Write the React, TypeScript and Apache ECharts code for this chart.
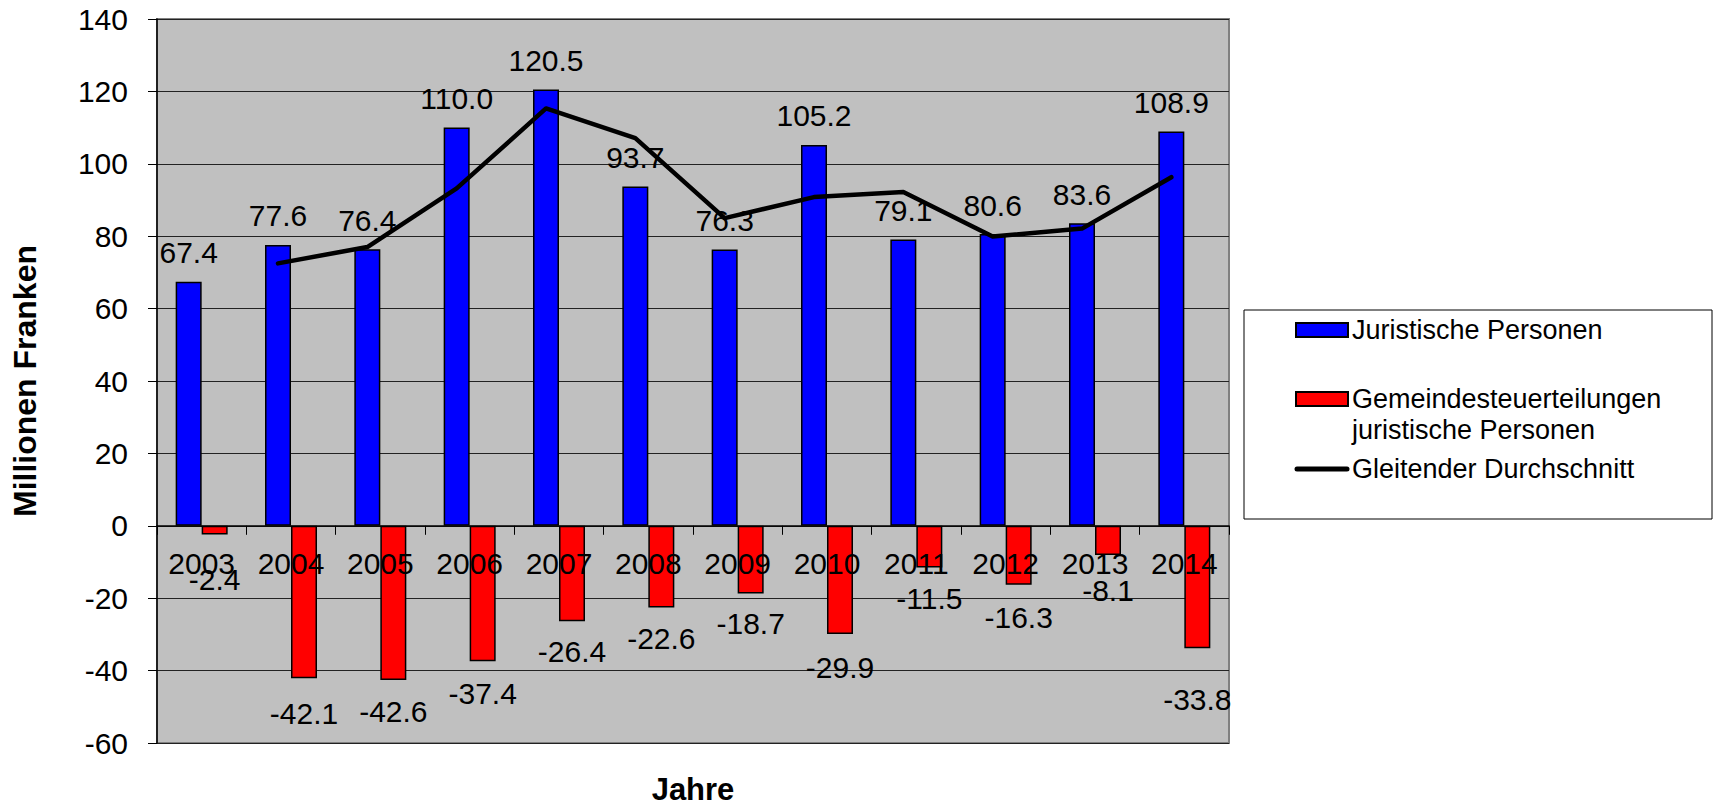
import React, { useEffect, useRef } from "react";
import * as echarts from "echarts";

const years = ["2003", "2004", "2005", "2006", "2007", "2008", "2009", "2010", "2011", "2012", "2013", "2014"];
const juristischePersonen = [67.4, 77.6, 76.4, 110.0, 120.5, 93.7, 76.3, 105.2, 79.1, 80.6, 83.6, 108.9];
const gemeindesteuerteilungen = [-2.4, -42.1, -42.6, -37.4, -26.4, -22.6, -18.7, -29.9, -11.5, -16.3, -8.1, -33.8];
const gleitenderDurchschnitt = [null, 72.5, 77.0, 93.2, 115.3, 107.1, 85.0, 90.8, 92.2, 79.9, 82.1, 96.3];
const yMin = -60;
const yMax = 140;
const yInterval = 20;

const seriesNames = [
  "Juristische Personen",
  "Gemeindesteuerteilungen\njuristische Personen",
  "Gleitender Durchschnitt",
];

// label distances (styling only) for the negative bars
const redLabelDistance = [30, 20, 16, 17, 15, 16, 15, 18, 16, 18, 20, 36];

const FONT = "'Liberation Sans', Arial, sans-serif";

export default function App() {
  const ref = useRef<HTMLDivElement>(null);

  useEffect(() => {
    if (!ref.current) return;
    const chart = echarts.init(ref.current, undefined, { renderer: "svg" });

    const gridLeft = 157;
    const gridTop = 19;
    const gridWidth = 1072;
    const gridHeight = 724;
    const barW = 26;
    // place the category axis at the value 0 line of the value axis
    const zeroOffset = -(gridHeight * (0 - yMin)) / (yMax - yMin);

    const option: any = {
      animation: false,
      backgroundColor: "#ffffff",
      textStyle: { fontFamily: FONT },
      grid: [
        {
          left: gridLeft,
          top: gridTop,
          width: gridWidth,
          height: gridHeight,
          show: true,
          backgroundColor: "#C0C0C0",
          borderColor: "#808080",
          borderWidth: 2,
          containLabel: false,
          outerBoundsMode: "none",
        },
        {
          left: gridLeft - barW / 2,
          top: gridTop,
          width: gridWidth,
          height: gridHeight,
          show: false,
          containLabel: false,
          outerBoundsMode: "none",
        },
      ],
      xAxis: [
        {
          type: "category",
          gridIndex: 0,
          data: years,
          position: "bottom",
          offset: zeroOffset,
          z: 5,
          axisLine: { show: true, onZero: false, lineStyle: { color: "#000", width: 1.5 } },
          axisTick: { show: true, length: 9, lineStyle: { color: "#000", width: 1 } },
          axisLabel: {
            interval: 0,
            margin: 23,
            fontSize: 30,
            color: "#000",
            fontFamily: FONT,
          },
          splitLine: { show: false },
        },
        {
          type: "category",
          gridIndex: 1,
          data: years,
          show: false,
        },
      ],
      yAxis: [
        {
          type: "value",
          gridIndex: 0,
          min: yMin,
          max: yMax,
          interval: yInterval,
          axisLine: { show: true, lineStyle: { color: "#000", width: 1.5 } },
          axisTick: { show: true, length: 9, lineStyle: { color: "#000", width: 1 } },
          axisLabel: { margin: 29, fontSize: 30, color: "#000", fontFamily: FONT },
          splitLine: { show: true, lineStyle: { color: "#222", width: 1 } },
          name: "Millionen Franken",
          nameLocation: "middle",
          nameRotate: 90,
          nameGap: 116,
          nameTextStyle: { fontSize: 32, fontWeight: "bold", color: "#000", fontFamily: FONT },
        },
        {
          type: "value",
          gridIndex: 1,
          min: yMin,
          max: yMax,
          interval: yInterval,
          show: false,
          splitLine: { show: false },
        },
      ],
      series: [
        {
          name: seriesNames[0],
          type: "bar",
          xAxisIndex: 0,
          yAxisIndex: 0,
          data: juristischePersonen,
          barWidth: barW,
          barGap: "0%",
          itemStyle: { color: "#0000FF", borderColor: "#000", borderWidth: 1.5 },
          label: {
            show: true,
            position: "top",
            distance: 14,
            fontSize: 30,
            color: "#000",
            fontFamily: FONT,
            formatter: (p: any) => Number(p.value).toFixed(1),
          },
        },
        {
          name: seriesNames[1],
          type: "bar",
          xAxisIndex: 0,
          yAxisIndex: 0,
          barWidth: barW,
          barGap: "0%",
          data: gemeindesteuerteilungen.map((v, i) => ({
            value: v,
            label: { distance: redLabelDistance[i] },
          })),
          itemStyle: { color: "#FF0000", borderColor: "#000", borderWidth: 1.5 },
          label: {
            show: true,
            position: "bottom",
            fontSize: 30,
            color: "#000",
            fontFamily: FONT,
            formatter: (p: any) => Number(p.value).toFixed(1),
          },
        },
        {
          name: seriesNames[2],
          type: "line",
          xAxisIndex: 1,
          yAxisIndex: 1,
          data: gleitenderDurchschnitt,
          showSymbol: false,
          symbol: "none",
          z: 4,
          lineStyle: { color: "#000", width: 4.5, cap: "round", join: "round" },
        },
      ],
      graphic: [
        {
          type: "text",
          x: 693,
          y: 789,
          style: {
            text: "Jahre",
            fontSize: 31,
            fontWeight: "bold",
            fontFamily: FONT,
            fill: "#000",
            align: "center",
            verticalAlign: "middle",
          },
        },
        {
          type: "rect",
          shape: { x: 1244, y: 310, width: 468, height: 209 },
          style: { fill: "#fff", stroke: "#000", lineWidth: 1 },
          z: 10,
        },
        {
          type: "rect",
          shape: { x: 1296, y: 323, width: 52, height: 14 },
          style: { fill: "#0000FF", stroke: "#000", lineWidth: 2 },
          z: 11,
        },
        {
          type: "text",
          x: 1352,
          y: 330,
          style: {
            text: seriesNames[0],
            fontSize: 27,
            fontFamily: FONT,
            fill: "#000",
            verticalAlign: "middle",
            align: "left",
          },
          z: 11,
        },
        {
          type: "rect",
          shape: { x: 1296, y: 392, width: 52, height: 14 },
          style: { fill: "#FF0000", stroke: "#000", lineWidth: 2 },
          z: 11,
        },
        {
          type: "text",
          x: 1352,
          y: 383.5,
          style: {
            text: seriesNames[1],
            fontSize: 27,
            lineHeight: 31,
            fontFamily: FONT,
            fill: "#000",
            verticalAlign: "top",
            align: "left",
          },
          z: 11,
        },
        {
          type: "line",
          shape: { x1: 1297, y1: 469, x2: 1347, y2: 469 },
          style: { stroke: "#000", lineWidth: 5, lineCap: "round" },
          z: 11,
        },
        {
          type: "text",
          x: 1352,
          y: 469,
          style: {
            text: seriesNames[2],
            fontSize: 27,
            fontFamily: FONT,
            fill: "#000",
            verticalAlign: "middle",
            align: "left",
          },
          z: 11,
        },
      ],
    };

    chart.setOption(option);
    return () => {
      chart.dispose();
    };
  }, []);

  return (
    <div
      ref={ref}
      style={{ position: "absolute", left: 0, top: 0, width: 1713, height: 807 }}
    />
  );
}
